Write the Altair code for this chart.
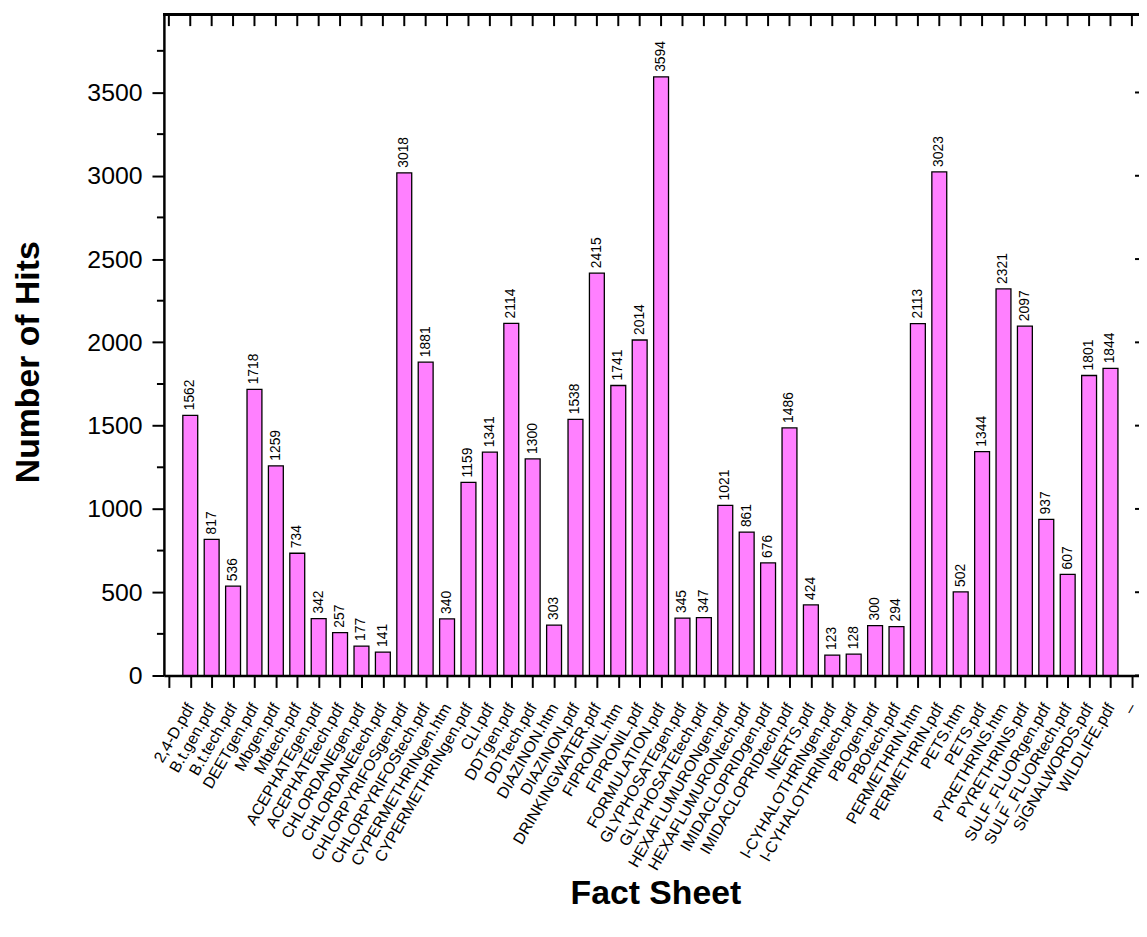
import json
import altair as alt
import pandas as pd

files = [
    "2,4-D.pdf", "B.t.gen.pdf", "B.t.tech.pdf", "DEETgen.pdf", "Mbgen.pdf", "Mbtech.pdf",
    "ACEPHATEgen.pdf", "ACEPHATEtech.pdf", "CHLORDANEgen.pdf", "CHLORDANEtech.pdf",
    "CHLORPYRIFOSgen.pdf", "CHLORPYRIFOStech.pdf", "CYPERMETHRINgen.htm", "CYPERMETHRINgen.pdf",
    "CLI.pdf", "DDTgen.pdf", "DDTtech.pdf", "DIAZINON.htm", "DIAZINON.pdf", "DRINKINGWATER.pdf",
    "FIPRONIL.htm", "FIPRONIL.pdf", "FORMULATION.pdf", "GLYPHOSATEgen.pdf", "GLYPHOSATEtech.pdf",
    "HEXAFLUMURONgen.pdf", "HEXAFLUMURONtech.pdf", "IMIDACLOPRIDgen.pdf", "IMIDACLOPRIDtech.pdf",
    "INERTS.pdf", "l-CYHALOTHRINgen.pdf", "l-CYHALOTHRINtech.pdf", "PBOgen.pdf", "PBOtech.pdf",
    "PERMETHRIN.htm", "PERMETHRIN.pdf", "PETS.htm", "PETS.pdf", "PYRETHRINS.htm", "PYRETHRINS.pdf",
    "SULF_FLUORgen.pdf", "SULF_FLUORtech.pdf", "SIGNALWORDS.pdf", "WILDLIFE.pdf",
]
hits = [
    1562, 817, 536, 1718, 1259, 734,
    342, 257, 177, 141,
    3018, 1881, 340, 1159,
    1341, 2114, 1300, 303, 1538, 2415,
    1741, 2014, 3594, 345, 347,
    1021, 861, 676, 1486,
    424, 123, 128, 300, 294,
    2113, 3023, 502, 1344, 2321, 2097,
    937, 607, 1801, 1844,
]
tick_labels = [""] + files + ["–"]
major_y = [0, 500, 1000, 1500, 2000, 2500, 3000, 3500]
minor_y = [250, 750, 1250, 1750, 2250, 2750, 3250, 3750]

FONT = "Liberation Sans"
W, H = 982, 666
N_SLOTS = len(tick_labels)  # tick positions 0..45

df = pd.DataFrame({"pos": list(range(1, len(files) + 1)), "file": files, "hits": hits})
ticks_df = pd.DataFrame({"pos": list(range(N_SLOTS))})
major_df = pd.DataFrame({"hits": major_y})
minor_df = pd.DataFrame({"hits": minor_y})

label_js = "[" + ",".join(json.dumps(s) for s in tick_labels) + "]"

x_scale = alt.Scale(domain=[0, 45.1], nice=False, zero=False)
y_scale = alt.Scale(domain=[0, 3970], nice=False)

x_axis = alt.Axis(
    values=list(range(N_SLOTS)),
    labelExpr=f"{label_js}[datum.value]",
    labelAngle=-60,
    labelAlign="right",
    labelBaseline="middle",
    labelFont=FONT,
    labelFontSize=16,
    labelColor="black",
    labelPadding=17,
    labelLimit=500,
    labelOverlap=False,
    labelFlush=False,
    labelBound=False,
    labelSeparation=0,
    tickSize=12,
    tickWidth=2,
    tickColor="black",
    domainWidth=2.5,
    domainColor="black",
    grid=False,
    title="Fact Sheet",
    titleFont=FONT,
    titleFontSize=34,
    titleFontWeight="bold",
    titleColor="black",
    titleX=495,
    titleY=220,
    titleAlign="center",
    titleBaseline="middle",
)
y_axis = alt.Axis(
    values=major_y,
    format="d",
    labelFont=FONT,
    labelFontSize=25,
    labelColor="black",
    labelPadding=10,
    labelBaseline="middle",
    labelOverlap=False,
    tickSize=12,
    tickWidth=2,
    tickColor="black",
    domainWidth=2.5,
    domainColor="black",
    grid=False,
    title="Number of Hits",
    titleFont=FONT,
    titleFontSize=34,
    titleFontWeight="bold",
    titleColor="black",
    titleX=-136,
    titleY=350,
    titleAlign="center",
    titleBaseline="middle",
    titleAngle=270,
)

x_enc = alt.X("pos:Q", scale=x_scale, axis=x_axis)
y_enc = alt.Y("hits:Q", scale=y_scale, axis=y_axis)

bars = alt.Chart(df).mark_bar(size=15, color="#FF80FF", stroke="black", strokeWidth=1.3).encode(
    x=x_enc, y=y_enc
)
labels = alt.Chart(df).mark_text(
    angle=270, align="left", baseline="middle", dx=5, font=FONT, fontSize=14, color="black"
).encode(
    x=x_enc,
    y=y_enc,
    text=alt.Text("hits:Q", format="d"),
)

top_line = alt.Chart(ticks_df).mark_rule(color="black", strokeWidth=2.5).encode(
    x=alt.value(0), x2=alt.value(W), y=alt.value(0)
)
top_ticks = alt.Chart(ticks_df).mark_rule(color="black", strokeWidth=2).encode(
    x=x_enc, y=alt.value(0), y2=alt.value(12)
)
left_minor = alt.Chart(minor_df).mark_rule(color="black", strokeWidth=2).encode(
    y=y_enc, x=alt.value(-7), x2=alt.value(0)
)
right_major = alt.Chart(major_df).mark_rule(color="black", strokeWidth=2).encode(
    y=y_enc, x=alt.value(W - 4), x2=alt.value(W)
)

chart = (
    alt.layer(bars, labels, top_line, top_ticks, left_minor, right_major)
    .properties(
        width=W,
        height=H,
        autosize=alt.AutoSizeParams(type="none"),
        padding={"left": 157, "top": 3, "right": 0, "bottom": 245},
    )
    .configure_view(strokeWidth=0)
    .configure(background="white")
)

chart.save("out.html", embed_options={"renderer": "svg", "actions": False})
